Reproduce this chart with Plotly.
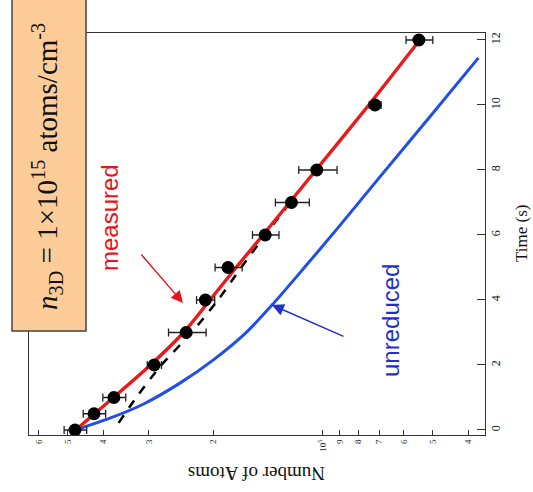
import plotly.graph_objects as go

# Measured atom number vs. hold time
t_meas = [0, 0.5, 1, 2, 3, 4, 5, 6, 7, 8, 10, 12]
n_meas = [4.78e5, 4.24e5, 3.74e5, 2.90e5, 2.37e5, 2.10e5, 1.82e5, 1.44e5, 1.22e5, 1.04e5, 7.2e4, 5.46e4]
n_err = [3.4e4, 3.0e4, 2.7e4, 1.3e4, 2.8e4, 1.2e4, 1.55e4, 1.2e4, 1.3e4, 1.25e4, 2.7e3, 4.6e3]

# Model curve through the measured decay (red)
t_fit = [0, 1, 2, 3, 4, 5, 6, 8, 10, 12]
n_fit = [4.76e5, 3.75e5, 2.97e5, 2.41e5, 2.04e5, 1.73e5, 1.46e5, 1.045e5, 7.49e4, 5.43e4]

# Unreduced loss curve (blue)
t_unred = [0, 0.37, 0.8, 1.45, 2.15, 2.98, 3.88, 5.02, 6.22, 7.78, 9.63, 11.45]
n_unred = [4.76e5, 3.82e5, 3.10e5, 2.46e5, 2.00e5, 1.63e5, 1.37e5, 1.12e5, 9.10e4, 6.99e4, 5.10e4, 3.75e4]

# Alternative model (black dashed)
t_dash = [0.22, 1.1, 2, 3, 4, 5, 6, 7]
n_dash = [3.63e5, 3.20e5, 2.77e5, 2.29e5, 1.94e5, 1.675e5, 1.44e5, 1.23e5]

# Atom-number axis ticks
atom_tickvals = [4e4, 5e4, 6e4, 7e4, 8e4, 9e4, 1e5, 2e5, 3e5, 4e5, 5e5, 6e5]
atom_ticktext = ["4", "5", "6", "7", "8", "9", "10<sup>5</sup>", "2", "3", "4", "5", "6"]
time_tickvals = [0, 2, 4, 6, 8, 10, 12]

SERIF = "Liberation Serif, Times New Roman, serif"
SANS = "Liberation Sans, Arial, sans-serif"

fig = go.Figure()

fig.add_trace(go.Scatter(x=n_unred, y=t_unred, mode="lines",
                         line=dict(color="#1f4fe6", width=3, shape="spline", smoothing=0.8),
                         showlegend=False))
fig.add_trace(go.Scatter(x=n_dash, y=t_dash, mode="lines",
                         line=dict(color="black", width=2.5, dash="dash", shape="spline", smoothing=0.8),
                         showlegend=False))
fig.add_trace(go.Scatter(x=n_fit, y=t_fit, mode="lines",
                         line=dict(color="#ea1a1a", width=3.4, shape="spline", smoothing=0.8),
                         showlegend=False))
fig.add_trace(go.Scatter(
    x=n_meas, y=t_meas, mode="markers",
    marker=dict(color="black", size=13),
    error_x=dict(type="data", array=n_err, color="#222", thickness=1.3, width=4),
    showlegend=False))

W, H = 533, 492
L, R, T, B = 29, 48, 33, 57
pw, ph = W - L - R, H - T - B


def px(x):
    return (x - L) / pw


def py(y):
    return (H - B - y) / ph


fig.update_layout(
    width=W, height=H,
    margin=dict(l=L, r=R, t=T, b=B),
    paper_bgcolor="white", plot_bgcolor="white",
    xaxis=dict(type="log", range=[5.8055, 4.556], autorange=False,
               showline=True, linecolor="#333", linewidth=1, mirror=True,
               ticks="inside", ticklen=5, tickcolor="#333",
               tickvals=atom_tickvals, ticktext=atom_ticktext, tickangle=-90,
               tickfont=dict(family=SERIF, size=9, color="#222"),
               showgrid=False, zeroline=False),
    yaxis=dict(range=[-0.154, 12.215], autorange=False, side="right",
               showline=True, linecolor="#333", linewidth=1, mirror=True,
               ticks="inside", ticklen=8, tickcolor="#333",
               tickvals=time_tickvals, tickangle=-90,
               tickfont=dict(family=SERIF, size=12, color="#222"),
               showgrid=False, zeroline=False),
)

# Density label box
fig.add_shape(type="rect", xref="paper", yref="paper",
              x0=px(12), x1=px(86), y0=py(331), y1=py(-3),
              fillcolor="#fdcc99", line=dict(color="#444", width=1.5), layer="above")


def label(x, y, text, angle, font):
    fig.add_annotation(xref="paper", yref="paper", x=px(x), y=py(y), text=text,
                       textangle=angle, showarrow=False,
                       xanchor="center", yanchor="middle", font=font)


label(47, 167, "<i>n</i><sub>3D</sub> = 1×10<sup>15</sup> atoms/cm<sup>-3</sup>", -90,
      dict(family=SERIF, size=29, color="#111"))

# Axis titles
label(521, 234, "Time (s)", -90, dict(family=SERIF, size=17, color="#111"))
label(257, 473, "Number of Atoms", 180, dict(family=SERIF, size=19, color="#111"))

# Curve labels and arrows
label(110, 218, "measured", -90, dict(family=SANS, size=24, color="#e8141b"))
label(390, 321, "unreduced", -90, dict(family=SANS, size=24, color="#1f2fd0"))

fig.add_annotation(xref="paper", yref="paper", x=px(183), y=py(303), text="",
                   showarrow=True, arrowhead=2, arrowsize=1.7, arrowwidth=1.4,
                   arrowcolor="#e8141b", ax=-43, ay=-50)
fig.add_annotation(xref="paper", yref="paper", x=px(272), y=py(305), text="",
                   showarrow=True, arrowhead=2, arrowsize=1.7, arrowwidth=1.4,
                   arrowcolor="#1f2fd0", ax=73, ay=32)

fig.write_html("out.html")
